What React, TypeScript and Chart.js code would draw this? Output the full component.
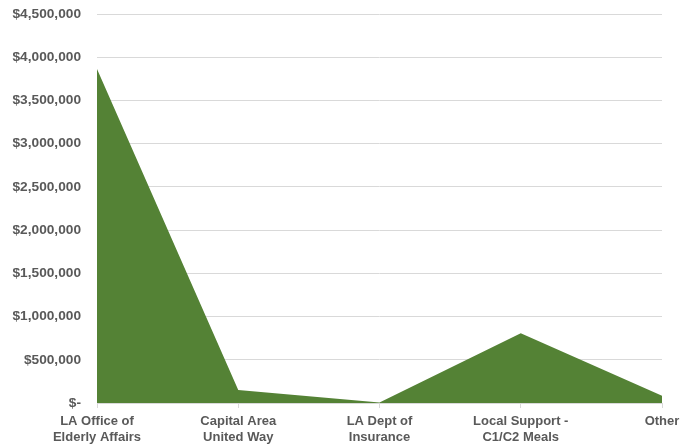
import React, { useEffect, useRef } from "react";
import { Chart, registerables } from "chart.js";

Chart.register(...registerables);

const categories: string[][] = [
  ["LA Office of", "Elderly Affairs"],
  ["Capital Area", "United Way"],
  ["LA Dept of", "Insurance"],
  ["Local Support -", "C1/C2 Meals"],
  ["Other"],
];
const values: number[] = [3865000, 150000, 5000, 807000, 85000];
const yMax = 4500000;
const yStep = 500000;

export default function App() {
  const ref = useRef<HTMLCanvasElement | null>(null);
  useEffect(() => {
    if (!ref.current) return;
    const family = "'Liberation Sans', Arial, sans-serif";
    const chart = new Chart(ref.current, {
      type: "line",
      data: {
        labels: categories,
        datasets: [
          {
            data: values,
            fill: "origin",
            backgroundColor: "#548235",
            borderColor: "#548235",
            borderWidth: 0,
            pointRadius: 0,
            tension: 0,
          },
        ],
      },
      options: {
        animation: false,
        responsive: false,
        maintainAspectRatio: false,
        layout: { padding: { top: 14, right: 33, left: 0, bottom: 0 } },
        plugins: { legend: { display: false }, tooltip: { enabled: false } },
        scales: {
          x: {
            offset: false,
            grid: { display: true, drawOnChartArea: false, drawTicks: true, tickLength: 5, color: "#d9d9d9" },
            border: { color: "#d9d9d9" },
            ticks: {
              color: "#595959",
              font: { family, size: 13, weight: "bold", lineHeight: 1.25 },
              padding: 5,
              maxRotation: 0,
              autoSkip: false,
            },
            afterFit: (s: any) => { s.height = 44; s.paddingLeft = 0; s.paddingRight = 0; },
          },
          y: {
            min: 0,
            max: yMax,
            grid: { color: "#d9d9d9", drawTicks: false },
            border: { display: false },
            ticks: {
              stepSize: yStep,
              color: "#595959",
              font: { family, size: 13.7, weight: "bold" },
              padding: 16,
              callback: (v: any) => (Number(v) === 0 ? "$-" : "$" + Number(v).toLocaleString("en-US")),
            },
            afterFit: (s: any) => { s.width = 97; s.paddingTop = 0; s.paddingBottom = 0; },
          },
        },
      },
    });
    return () => chart.destroy();
  }, []);
  return (
    <div style={{ position: "fixed", left: 0, top: 0, width: 695, height: 447, background: "#fff" }}>
      <canvas ref={ref} width={695} height={447} />
    </div>
  );
}
